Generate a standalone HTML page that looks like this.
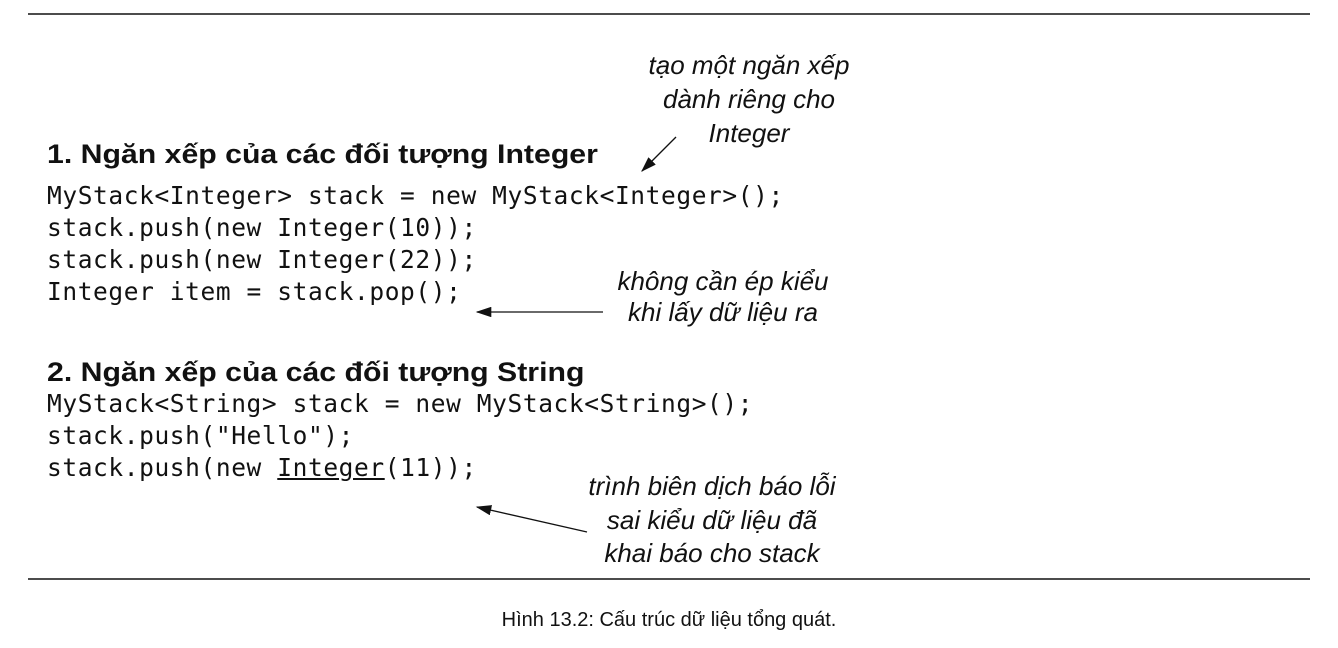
<!DOCTYPE html>
<html><head><meta charset="utf-8">
<style>
body{margin:0;width:1338px;height:648px;background:#fff;position:relative;overflow:hidden;font-family:"Liberation Sans",sans-serif;color:#111}
.t{position:absolute;white-space:pre;line-height:1}
.ann{font-style:italic;font-size:26px;text-align:center}
.h{font-weight:bold;font-size:27px;transform:scaleX(1.12);transform-origin:0 0}
.c{font-family:"DejaVu Sans Mono","Liberation Mono",monospace;font-size:24.5px;letter-spacing:0.6px}
</style></head><body>
<svg width="1338" height="648" style="position:absolute;left:0;top:0">
<defs><marker id="ah" markerWidth="12" markerHeight="8" refX="11" refY="4" orient="auto"><path d="M0,0 L12,4 L0,8 Z" fill="#111"/></marker></defs>
<line x1="28" y1="14" x2="1310" y2="14" stroke="#111" stroke-width="1.5"/>
<line x1="28" y1="579" x2="1310" y2="579" stroke="#111" stroke-width="1.5"/>
<line x1="676" y1="137" x2="642" y2="171" stroke="#111" stroke-width="1.3" marker-end="url(#ah)"/>
<line x1="603" y1="312" x2="477" y2="312" stroke="#111" stroke-width="1.3" marker-end="url(#ah)"/>
<line x1="587" y1="532" x2="477" y2="507" stroke="#111" stroke-width="1.3" marker-end="url(#ah)"/>
</svg>
<div class="t ann" style="left:599px;top:48px;width:300px;line-height:34px">tạo một ngăn xếp<br>dành riêng cho<br>Integer</div>
<div class="t h" style="left:47px;top:141px">1. Ngăn xếp của các đối tượng Integer</div>
<div class="t c" style="left:47px;top:184px">MyStack&lt;Integer&gt; stack = new MyStack&lt;Integer&gt;();</div>
<div class="t c" style="left:47px;top:216px">stack.push(new Integer(10));</div>
<div class="t c" style="left:47px;top:248px">stack.push(new Integer(22));</div>
<div class="t c" style="left:47px;top:280px">Integer item = stack.pop();</div>
<div class="t ann" style="left:573px;top:266px;width:300px;line-height:31px">không cần ép kiểu<br>khi lấy dữ liệu ra</div>
<div class="t h" style="left:47px;top:359px">2. Ngăn xếp của các đối tượng String</div>
<div class="t c" style="left:47px;top:392px">MyStack&lt;String&gt; stack = new MyStack&lt;String&gt;();</div>
<div class="t c" style="left:47px;top:424px">stack.push("Hello");</div>
<div class="t c" style="left:47px;top:456px">stack.push(new <u>Integer</u>(11));</div>
<div class="t ann" style="left:552px;top:470px;width:320px;line-height:33.5px">trình biên dịch báo lỗi<br>sai kiểu dữ liệu đã<br>khai báo cho stack</div>
<div class="t" style="left:0;width:1338px;text-align:center;top:610px;font-size:20px">Hình 13.2: Cấu trúc dữ liệu tổng quát.</div>
</body></html>
